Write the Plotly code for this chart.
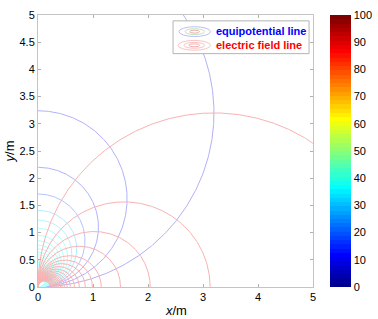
import numpy as np
import plotly.graph_objects as go

# ---- data ----
# diameters (m) of the electric-field-line circles (centred on the x axis, through the origin)
field_diam = [6.4, 3.13, 2.04, 1.50, 1.15, 0.99, 0.86, 0.75, 0.66, 0.59, 0.53, 0.48,
              0.44, 0.41, 0.38, 0.35, 0.33, 0.31, 0.29, 0.27, 0.25, 0.24, 0.22]
# diameters (m) of the equipotential circles (centred on the y axis, through the origin)
equi_diam = [6.4, 3.24, 2.2, 1.71, 1.41, 1.23, 1.08, 0.95, 0.85, 0.77, 0.70, 0.64, 0.59,
             0.55, 0.51, 0.48, 0.45, 0.42, 0.40, 0.37, 0.35, 0.33, 0.31, 0.29, 0.27]
# colour value (0-100 on the jet colorbar) of each equipotential level
equi_val = [8, 10, 12, 18, 30, 34, 36, 36, 37, 37, 38, 38, 38, 38, 38, 38, 38, 38, 38, 38, 38, 38, 38, 38, 38]
field_val = 88
x_ticks = [0, 1, 2, 3, 4, 5]
y_ticks = [0, 0.5, 1, 1.5, 2, 2.5, 3, 3.5, 4, 4.5, 5]
cbar_ticks = [0, 10, 20, 30, 40, 50, 60, 70, 80, 90, 100]


def jet64():
    n = 64
    m = 16
    u = np.concatenate([np.arange(1, m + 1) / m, np.ones(m - 1), np.arange(m, 0, -1) / m])
    g = (m // 2) + np.arange(1, len(u) + 1)
    r = g + m
    b = g - m
    J = np.zeros((n, 3))
    for idx, col in ((r, 0), (g, 1), (b, 2)):
        ok = (idx >= 1) & (idx <= n)
        J[idx[ok] - 1, col] = u[ok]
    return (J * 255).round().astype(int)


JET = jet64()


def light_jet(v, k):
    i = int(min(63, max(0, v / 100 * 64)))
    r, g, b = (255 - k * (255 - c) for c in JET[i])
    return f"rgb({r:.0f},{g:.0f},{b:.0f})"


fig = go.Figure()
th = np.linspace(0, np.pi, 400)

for d, v in zip(equi_diam, equi_val):
    R = d / 2
    fig.add_trace(go.Scatter(x=R * np.sin(th), y=R - R * np.cos(th), mode="lines",
                             line=dict(color=light_jet(v, 0.3), width=1),
                             hoverinfo="skip", showlegend=False))
for d in field_diam:
    R = d / 2
    fig.add_trace(go.Scatter(x=R - R * np.cos(th), y=R * np.sin(th), mode="lines",
                             line=dict(color=light_jet(field_val, 0.3), width=1),
                             hoverinfo="skip", showlegend=False))

# colorbar carrier
scale = []
for i in range(64):
    r, g, b = JET[i]
    c = f"rgb({r},{g},{b})"
    scale.append([i / 64, c])
    scale.append([(i + 1) / 64, c])
PW, PH = 279, 278
fig.add_trace(go.Scatter(
    x=[-10], y=[-10], mode="markers", hoverinfo="skip", showlegend=False,
    marker=dict(color=[0], cmin=0, cmax=100, colorscale=scale, showscale=True, size=1,
                colorbar=dict(x=(334 - 38) / PW, xanchor="left", xpad=0, ypad=0,
                              y=0.5, yanchor="middle", len=1, lenmode="fraction",
                              thickness=21, thicknessmode="pixels", outlinewidth=0,
                              tickvals=cbar_ticks, ticks="", ticklabelposition="outside",
                              tickfont=dict(family="Arial, Liberation Sans", size=11, color="black"))),
))

font = dict(family="Arial, Liberation Sans", size=11, color="black")
axis_common = dict(range=[0, 5], showgrid=False, zeroline=False, showline=True,
                   linecolor="#c4c4c4", linewidth=1, mirror="ticks", ticks="inside",
                   ticklen=3, tickcolor="#b0b0b0", tickfont=font)
fig.update_layout(
    width=378, height=319, margin=dict(l=38, r=61, t=9, b=32),
    paper_bgcolor="white", plot_bgcolor="white", showlegend=False,
    xaxis=dict(tickvals=x_ticks, **axis_common),
    yaxis=dict(tickvals=y_ticks, **axis_common),
)


def px(xp):
    return (xp - 38) / PW


def py(yp):
    return (287 - yp) / PH


shapes = [
    dict(type="rect", xref="paper", yref="paper", x0=px(175), x1=px(313), y0=py(48.5), y1=py(15),
         line=dict(color="#b4b4b4", width=1), fillcolor="white", layer="above"),
    # equipotential icon
    dict(type="circle", xref="paper", yref="paper", x0=px(181), x1=px(213), y0=py(31), y1=py(21),
         line=dict(color="rgb(190,190,245)", width=1), layer="above"),
    dict(type="circle", xref="paper", yref="paper", x0=px(187), x1=px(207), y0=py(29), y1=py(23),
         line=dict(color="rgb(190,230,190)", width=1), layer="above"),
    dict(type="circle", xref="paper", yref="paper", x0=px(192), x1=px(202), y0=py(27.5), y1=py(24.5),
         line=dict(color="rgb(235,170,170)", width=1), layer="above"),
    # field line icon
    dict(type="circle", xref="paper", yref="paper", x0=px(180), x1=px(213), y0=py(45), y1=py(35),
         line=dict(color="rgb(250,195,195)", width=1), layer="above"),
    dict(type="circle", xref="paper", yref="paper", x0=px(186), x1=px(207), y0=py(43), y1=py(37),
         line=dict(color="rgb(250,195,195)", width=1), layer="above"),
    dict(type="circle", xref="paper", yref="paper", x0=px(191), x1=px(202), y0=py(41.5), y1=py(38.5),
         line=dict(color="rgb(240,175,175)", width=1), layer="above"),
]
fig.update_layout(shapes=shapes)

ann = [
    dict(text="<b>equipotential line</b>", x=px(216.5), y=py(25.5), xref="paper", yref="paper",
         xanchor="left", yanchor="middle", showarrow=False,
         font=dict(family="Arial, Liberation Sans", size=11, color="blue")),
    dict(text="<b>electric field line</b>", x=px(216.5), y=py(39.5), xref="paper", yref="paper",
         xanchor="left", yanchor="middle", showarrow=False,
         font=dict(family="Arial, Liberation Sans", size=11, color="red")),
    dict(text="<i>x</i>/m", x=px(178), y=py(311), xref="paper", yref="paper",
         xanchor="center", yanchor="middle", showarrow=False,
         font=dict(family="Arial, Liberation Sans", size=13, color="black")),
    dict(text="<i>y</i>/m", x=px(9), y=py(148), xref="paper", yref="paper", textangle=-90,
         xanchor="center", yanchor="middle", showarrow=False,
         font=dict(family="Arial, Liberation Sans", size=13, color="black")),
]
fig.update_layout(annotations=ann)

fig.write_html("out.html", config={"displayModeBar": False},
               post_script="document.body.style.margin='0px';document.body.style.padding='0px';")
